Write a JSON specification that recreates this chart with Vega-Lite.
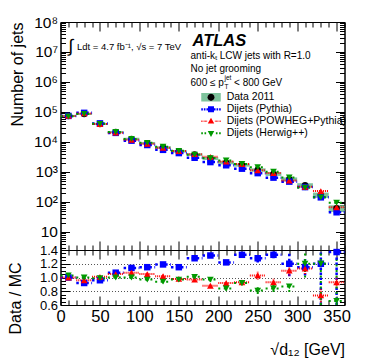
{
  "$schema": "https://vega.github.io/schema/vega-lite/v6.json",
  "autosize": {"type": "none"},
  "width": 284,
  "height": 283,
  "padding": {"left": 60.5, "top": 22, "right": 29.5, "bottom": 54},
  "background": "white",
  "datasets": {
    "band": [
      {"x1": 0, "x2": 20, "lo": 68080, "hi": 79920},
      {"x1": 20, "x2": 40, "lo": 79120, "hi": 92880},
      {"x1": 40, "x2": 60, "lo": 36800, "hi": 43200},
      {"x1": 60, "x2": 80, "lo": 19780, "hi": 23220},
      {"x1": 80, "x2": 100, "lo": 11466, "hi": 13734},
      {"x1": 100, "x2": 120, "lo": 8281, "hi": 9919},
      {"x1": 120, "x2": 140, "lo": 5850, "hi": 7150},
      {"x1": 140, "x2": 160, "lo": 4410, "hi": 5390},
      {"x1": 160, "x2": 180, "lo": 3420, "hi": 4180},
      {"x1": 180, "x2": 200, "lo": 2510, "hi": 3130},
      {"x1": 200, "x2": 220, "lo": 1795, "hi": 2285},
      {"x1": 220, "x2": 240, "lo": 1505, "hi": 1915},
      {"x1": 240, "x2": 260, "lo": 1018, "hi": 1322},
      {"x1": 260, "x2": 280, "lo": 740, "hi": 980},
      {"x1": 280, "x2": 300, "lo": 485, "hi": 657},
      {"x1": 300, "x2": 320, "lo": 299, "hi": 421},
      {"x1": 320, "x2": 340, "lo": 137, "hi": 205},
      {"x1": 340, "x2": 360, "lo": 46.5, "hi": 77.5}
    ],
    "pts": [
      {"s": "Data 2011", "x": 10, "x1": 0, "x2": 20, "n": 74000},
      {"s": "Data 2011", "x": 30, "x1": 20, "x2": 40, "n": 86000},
      {"s": "Data 2011", "x": 50, "x1": 40, "x2": 60, "n": 40000},
      {"s": "Data 2011", "x": 70, "x1": 60, "x2": 80, "n": 21500},
      {"s": "Data 2011", "x": 90, "x1": 80, "x2": 100, "n": 12600},
      {"s": "Data 2011", "x": 110, "x1": 100, "x2": 120, "n": 9100},
      {"s": "Data 2011", "x": 130, "x1": 120, "x2": 140, "n": 6500},
      {"s": "Data 2011", "x": 150, "x1": 140, "x2": 160, "n": 4900},
      {"s": "Data 2011", "x": 170, "x1": 160, "x2": 180, "n": 3800},
      {"s": "Data 2011", "x": 190, "x1": 180, "x2": 200, "n": 2820},
      {"s": "Data 2011", "x": 210, "x1": 200, "x2": 220, "n": 2040},
      {"s": "Data 2011", "x": 230, "x1": 220, "x2": 240, "n": 1710},
      {"s": "Data 2011", "x": 250, "x1": 240, "x2": 260, "n": 1170},
      {"s": "Data 2011", "x": 270, "x1": 260, "x2": 280, "n": 860},
      {"s": "Data 2011", "x": 290, "x1": 280, "x2": 300, "n": 571},
      {"s": "Data 2011", "x": 310, "x1": 300, "x2": 320, "n": 360},
      {"s": "Data 2011", "x": 330, "x1": 320, "x2": 340, "n": 171},
      {"s": "Data 2011", "x": 350, "x1": 340, "x2": 360, "n": 62},

      {"s": "Dijets (Pythia)", "x": 10, "x1": 0, "x2": 20, "n": 74000, "r": 1.00, "lo": 0.98, "hi": 1.02},
      {"s": "Dijets (Pythia)", "x": 30, "x1": 20, "x2": 40, "n": 93480, "r": 0.92, "lo": 0.90, "hi": 0.94},
      {"s": "Dijets (Pythia)", "x": 50, "x1": 40, "x2": 60, "n": 41670, "r": 0.96, "lo": 0.94, "hi": 0.98},
      {"s": "Dijets (Pythia)", "x": 70, "x1": 60, "x2": 80, "n": 20090, "r": 1.07, "lo": 1.05, "hi": 1.09},
      {"s": "Dijets (Pythia)", "x": 90, "x1": 80, "x2": 100, "n": 11050, "r": 1.14, "lo": 1.12, "hi": 1.16},
      {"s": "Dijets (Pythia)", "x": 110, "x1": 100, "x2": 120, "n": 7913, "r": 1.15, "lo": 1.13, "hi": 1.17},
      {"s": "Dijets (Pythia)", "x": 130, "x1": 120, "x2": 140, "n": 5462, "r": 1.19, "lo": 1.165, "hi": 1.215},
      {"s": "Dijets (Pythia)", "x": 150, "x1": 140, "x2": 160, "n": 4261, "r": 1.15, "lo": 1.125, "hi": 1.175},
      {"s": "Dijets (Pythia)", "x": 170, "x1": 160, "x2": 180, "n": 2969, "r": 1.28, "lo": 1.25, "hi": 1.31},
      {"s": "Dijets (Pythia)", "x": 190, "x1": 180, "x2": 200, "n": 2136, "r": 1.32, "lo": 1.285, "hi": 1.355},
      {"s": "Dijets (Pythia)", "x": 210, "x1": 200, "x2": 220, "n": 1672, "r": 1.22, "lo": 1.185, "hi": 1.255},
      {"s": "Dijets (Pythia)", "x": 230, "x1": 220, "x2": 240, "n": 1286, "r": 1.33, "lo": 1.29, "hi": 1.37},
      {"s": "Dijets (Pythia)", "x": 250, "x1": 240, "x2": 260, "n": 914, "r": 1.28, "lo": 1.22, "hi": 1.34},
      {"s": "Dijets (Pythia)", "x": 270, "x1": 260, "x2": 280, "n": 647, "r": 1.33, "lo": 1.28, "hi": 1.38},
      {"s": "Dijets (Pythia)", "x": 290, "x1": 280, "x2": 300, "n": 476, "r": 1.20, "lo": 1.02, "hi": 1.38},
      {"s": "Dijets (Pythia)", "x": 310, "x1": 300, "x2": 320, "n": 313, "r": 1.15, "lo": 1.03, "hi": 1.27},
      {"s": "Dijets (Pythia)", "x": 330, "x1": 320, "x2": 340, "n": 142.5, "r": 1.20, "lo": 0.6, "hi": 1.8},
      {"s": "Dijets (Pythia)", "x": 350, "x1": 340, "x2": 360, "n": 45.3, "r": 1.37, "lo": 0.57, "hi": 2.17},

      {"s": "Dijets (POWHEG+Pythia)", "x": 10, "x1": 0, "x2": 20, "n": 74000, "r": 1.00, "lo": 0.98, "hi": 1.02},
      {"s": "Dijets (POWHEG+Pythia)", "x": 30, "x1": 20, "x2": 40, "n": 89580, "r": 0.96, "lo": 0.94, "hi": 0.98},
      {"s": "Dijets (POWHEG+Pythia)", "x": 50, "x1": 40, "x2": 60, "n": 39600, "r": 1.01, "lo": 0.99, "hi": 1.03},
      {"s": "Dijets (POWHEG+Pythia)", "x": 70, "x1": 60, "x2": 80, "n": 20480, "r": 1.05, "lo": 1.03, "hi": 1.07},
      {"s": "Dijets (POWHEG+Pythia)", "x": 90, "x1": 80, "x2": 100, "n": 11780, "r": 1.07, "lo": 1.05, "hi": 1.09},
      {"s": "Dijets (POWHEG+Pythia)", "x": 110, "x1": 100, "x2": 120, "n": 8667, "r": 1.05, "lo": 1.03, "hi": 1.07},
      {"s": "Dijets (POWHEG+Pythia)", "x": 130, "x1": 120, "x2": 140, "n": 6373, "r": 1.02, "lo": 0.995, "hi": 1.045},
      {"s": "Dijets (POWHEG+Pythia)", "x": 150, "x1": 140, "x2": 160, "n": 5000, "r": 0.98, "lo": 0.955, "hi": 1.005},
      {"s": "Dijets (POWHEG+Pythia)", "x": 170, "x1": 160, "x2": 180, "n": 3918, "r": 0.97, "lo": 0.94, "hi": 1.0},
      {"s": "Dijets (POWHEG+Pythia)", "x": 190, "x1": 180, "x2": 200, "n": 3205, "r": 0.88, "lo": 0.85, "hi": 0.91},
      {"s": "Dijets (POWHEG+Pythia)", "x": 210, "x1": 200, "x2": 220, "n": 2217, "r": 0.92, "lo": 0.89, "hi": 0.95},
      {"s": "Dijets (POWHEG+Pythia)", "x": 230, "x1": 220, "x2": 240, "n": 1839, "r": 0.93, "lo": 0.895, "hi": 0.965},
      {"s": "Dijets (POWHEG+Pythia)", "x": 250, "x1": 240, "x2": 260, "n": 1136, "r": 1.03, "lo": 0.97, "hi": 1.09},
      {"s": "Dijets (POWHEG+Pythia)", "x": 270, "x1": 260, "x2": 280, "n": 925, "r": 0.93, "lo": 0.87, "hi": 0.99},
      {"s": "Dijets (POWHEG+Pythia)", "x": 290, "x1": 280, "x2": 300, "n": 519, "r": 1.10, "lo": 1.03, "hi": 1.17},
      {"s": "Dijets (POWHEG+Pythia)", "x": 310, "x1": 300, "x2": 320, "n": 319, "r": 1.13, "lo": 1.05, "hi": 1.21},
      {"s": "Dijets (POWHEG+Pythia)", "x": 330, "x1": 320, "x2": 340, "n": 231, "r": 0.74, "lo": 0.64, "hi": 0.84},
      {"s": "Dijets (POWHEG+Pythia)", "x": 350, "x1": 340, "x2": 360, "n": 66.7, "r": 0.93, "lo": 0.85, "hi": 1.01},

      {"s": "Dijets (Herwig++)", "x": 10, "x1": 0, "x2": 20, "n": 71840, "r": 1.03, "lo": 1.01, "hi": 1.05},
      {"s": "Dijets (Herwig++)", "x": 30, "x1": 20, "x2": 40, "n": 86000, "r": 1.00, "lo": 0.98, "hi": 1.02},
      {"s": "Dijets (Herwig++)", "x": 50, "x1": 40, "x2": 60, "n": 40400, "r": 0.99, "lo": 0.97, "hi": 1.01},
      {"s": "Dijets (Herwig++)", "x": 70, "x1": 60, "x2": 80, "n": 21500, "r": 1.00, "lo": 0.98, "hi": 1.02},
      {"s": "Dijets (Herwig++)", "x": 90, "x1": 80, "x2": 100, "n": 12600, "r": 1.00, "lo": 0.98, "hi": 1.02},
      {"s": "Dijets (Herwig++)", "x": 110, "x1": 100, "x2": 120, "n": 9381, "r": 0.97, "lo": 0.95, "hi": 0.99},
      {"s": "Dijets (Herwig++)", "x": 130, "x1": 120, "x2": 140, "n": 6915, "r": 0.94, "lo": 0.915, "hi": 0.965},
      {"s": "Dijets (Herwig++)", "x": 150, "x1": 140, "x2": 160, "n": 5052, "r": 0.97, "lo": 0.945, "hi": 0.995},
      {"s": "Dijets (Herwig++)", "x": 170, "x1": 160, "x2": 180, "n": 3762, "r": 1.01, "lo": 0.98, "hi": 1.04},
      {"s": "Dijets (Herwig++)", "x": 190, "x1": 180, "x2": 200, "n": 2907, "r": 0.97, "lo": 0.94, "hi": 1.0},
      {"s": "Dijets (Herwig++)", "x": 210, "x1": 200, "x2": 220, "n": 2429, "r": 0.84, "lo": 0.81, "hi": 0.87},
      {"s": "Dijets (Herwig++)", "x": 230, "x1": 220, "x2": 240, "n": 1859, "r": 0.92, "lo": 0.885, "hi": 0.955},
      {"s": "Dijets (Herwig++)", "x": 250, "x1": 240, "x2": 260, "n": 1444, "r": 0.81, "lo": 0.76, "hi": 0.86},
      {"s": "Dijets (Herwig++)", "x": 270, "x1": 260, "x2": 280, "n": 1024, "r": 0.84, "lo": 0.79, "hi": 0.89},
      {"s": "Dijets (Herwig++)", "x": 290, "x1": 280, "x2": 300, "n": 656, "r": 0.87, "lo": 0.79, "hi": 0.95},
      {"s": "Dijets (Herwig++)", "x": 310, "x1": 300, "x2": 320, "n": 300, "r": 1.20, "lo": 1.0, "hi": 1.4},
      {"s": "Dijets (Herwig++)", "x": 330, "x1": 320, "x2": 340, "n": 142.5, "r": 1.20, "lo": 0.6, "hi": 1.8},
      {"s": "Dijets (Herwig++)", "x": 350, "x1": 340, "x2": 360, "n": 93.9, "r": 0.66, "lo": 0.06, "hi": 1.26}
    ]
  },
  "resolve": {"scale": {"y": "independent"}, "axis": {"x": "independent", "y": "independent"}},
  "layer": [
    {
      "resolve": {"axis": {"x": "independent", "y": "independent"}},
      "layer": [
        {
          "data": {"name": "band"},
          "mark": {"type": "rect", "strokeWidth": 0},
          "encoding": {
            "x": {"field": "x1", "type": "quantitative", "scale": {"domain": [0, 360], "nice": false, "zero": false},
              "axis": {"orient": "top", "values": [0,10,20,30,40,50,60,70,80,90,100,110,120,130,140,150,160,170,180,190,200,210,220,230,240,250,260,270,280,290,300,310,320,330,340,350,360],
                "tickSize": {"condition": {"test": "datum.value % 50 == 0", "value": -9}, "value": -5}, "labels": false, "title": null}},
            "x2": {"field": "x2"},
            "y": {"field": "lo", "type": "quantitative", "scale": {"type": "log", "domain": [2.5, 100000000], "range": [228, 0], "nice": false},
              "axis": {"orient": "left",
                "values": [3,4,5,6,7,8,9,10,20,30,40,50,60,70,80,90,100,200,300,400,500,600,700,800,900,1000,2000,3000,4000,5000,6000,7000,8000,9000,10000,20000,30000,40000,50000,60000,70000,80000,90000,100000,200000,300000,400000,500000,600000,700000,800000,900000,1000000,2000000,3000000,4000000,5000000,6000000,7000000,8000000,9000000,10000000,20000000,30000000,40000000,50000000,60000000,70000000,80000000,90000000,100000000],
                "tickSize": {"condition": {"test": "abs(log(datum.value)/LN10 - round(log(datum.value)/LN10)) < 0.001", "value": -9}, "value": -5},
                "labelExpr": "abs(log(datum.value)/LN10 - round(log(datum.value)/LN10)) < 0.001 ? (round(log(datum.value)/LN10) == 1 ? '10' : '10' + ['⁰','¹','²','³','⁴','⁵','⁶','⁷','⁸','⁹'][round(log(datum.value)/LN10)]) : ''",
                "labelPadding": 12, "labelFontSize": 15.5,
                "title": "Number of jets", "titleAnchor": "end", "titleX": -38.5, "titleBaseline": "alphabetic", "titleAngle": 270}},
            "y2": {"field": "hi"},
            "fill": {"datum": "Data 2011", "type": "nominal", "scale": {"range": ["#7ec39c"]},
              "legend": {"orient": "none", "legendX": 144, "legendY": 68.8, "title": null, "padding": 0, "rowPadding": 0,
                "labelExpr": "''", "labelOffset": 9.2, "symbolSize": 169, "symbolStrokeWidth": 0,
                "symbolType": "M-1.5,-0.65H1.5V0.65H-1.5zM-0.55,0A0.55,0.55,0,1,0,0.55,0A0.55,0.55,0,1,0,-0.55,0z"}}
          }
        },
        {
          "data": {"name": "pts"},
          "transform": [{"filter": "datum.s === 'Dijets (Pythia)'"}],
          "mark": {"type": "rule", "color": "#0000ff", "strokeWidth": 2.5, "strokeDash": [2.5, 2.5]},
          "encoding": {
            "x": {"field": "x1", "type": "quantitative", "scale": {"domain": [0, 360], "nice": false, "zero": false}, "axis": null},
            "x2": {"field": "x2"},
            "y": {"field": "n", "type": "quantitative", "scale": {"type": "log", "domain": [2.5, 100000000], "range": [228, 0], "nice": false}, "axis": null}
          }
        },
        {
          "data": {"name": "pts"},
          "transform": [{"filter": "datum.s === 'Dijets (POWHEG+Pythia)'"}],
          "mark": {"type": "rule", "color": "#ff0000", "strokeWidth": 2, "strokeDash": [1, 1]},
          "encoding": {
            "x": {"field": "x1", "type": "quantitative", "scale": {"domain": [0, 360], "nice": false, "zero": false}, "axis": null},
            "x2": {"field": "x2"},
            "y": {"field": "n", "type": "quantitative", "scale": {"type": "log", "domain": [2.5, 100000000], "range": [228, 0], "nice": false}, "axis": null}
          }
        },
        {
          "data": {"name": "pts"},
          "transform": [{"filter": "datum.s === 'Dijets (Herwig++)'"}],
          "mark": {"type": "rule", "color": "#009900", "strokeWidth": 2, "strokeDash": [2, 3.5]},
          "encoding": {
            "x": {"field": "x1", "type": "quantitative", "scale": {"domain": [0, 360], "nice": false, "zero": false}, "axis": null},
            "x2": {"field": "x2"},
            "y": {"field": "n", "type": "quantitative", "scale": {"type": "log", "domain": [2.5, 100000000], "range": [228, 0], "nice": false}, "axis": null}
          }
        },
        {
          "data": {"name": "pts"},
          "transform": [{"filter": "datum.s === 'Data 2011'"}],
          "mark": {"type": "point", "shape": "circle", "filled": true, "opacity": 1, "size": 42, "color": "#000000", "strokeWidth": 0},
          "encoding": {
            "x": {"field": "x", "type": "quantitative", "scale": {"domain": [0, 360], "nice": false, "zero": false},
              "axis": {"orient": "bottom", "offset": -55, "values": [0,10,20,30,40,50,60,70,80,90,100,110,120,130,140,150,160,170,180,190,200,210,220,230,240,250,260,270,280,290,300,310,320,330,340,350,360],
                "tickSize": {"condition": {"test": "datum.value % 50 == 0", "value": -9}, "value": -5}, "labels": false, "title": null}},
            "y": {"field": "n", "type": "quantitative", "scale": {"type": "log", "domain": [2.5, 100000000], "range": [228, 0], "nice": false},
              "axis": {"orient": "right",
                "values": [3,4,5,6,7,8,9,10,20,30,40,50,60,70,80,90,100,200,300,400,500,600,700,800,900,1000,2000,3000,4000,5000,6000,7000,8000,9000,10000,20000,30000,40000,50000,60000,70000,80000,90000,100000,200000,300000,400000,500000,600000,700000,800000,900000,1000000,2000000,3000000,4000000,5000000,6000000,7000000,8000000,9000000,10000000,20000000,30000000,40000000,50000000,60000000,70000000,80000000,90000000,100000000],
                "tickSize": {"condition": {"test": "abs(log(datum.value)/LN10 - round(log(datum.value)/LN10)) < 0.001", "value": -9}, "value": -5},
                "labels": false, "title": null}}
          }
        },
        {
          "data": {"name": "pts"},
          "transform": [{"filter": "datum.s === 'Dijets (Pythia)'"}],
          "mark": {"type": "point", "shape": "square", "filled": true, "opacity": 1, "size": 42, "color": "#0000ff", "strokeWidth": 0},
          "encoding": {
            "x": {"field": "x", "type": "quantitative", "scale": {"domain": [0, 360], "nice": false, "zero": false}, "axis": null},
            "y": {"field": "n", "type": "quantitative", "scale": {"type": "log", "domain": [2.5, 100000000], "range": [228, 0], "nice": false}, "axis": null}
          }
        },
        {
          "data": {"name": "pts"},
          "transform": [{"filter": "datum.s === 'Dijets (POWHEG+Pythia)'"}],
          "mark": {"type": "point", "shape": "triangle-up", "filled": true, "opacity": 1, "size": 45, "color": "#ff0000", "strokeWidth": 0},
          "encoding": {
            "x": {"field": "x", "type": "quantitative", "scale": {"domain": [0, 360], "nice": false, "zero": false}, "axis": null},
            "y": {"field": "n", "type": "quantitative", "scale": {"type": "log", "domain": [2.5, 100000000], "range": [228, 0], "nice": false}, "axis": null}
          }
        },
        {
          "data": {"name": "pts"},
          "transform": [{"filter": "datum.s === 'Dijets (Herwig++)'"}],
          "mark": {"type": "point", "shape": "triangle-down", "filled": true, "opacity": 1, "size": 45, "color": "#009900", "strokeWidth": 0},
          "encoding": {
            "x": {"field": "x", "type": "quantitative", "scale": {"domain": [0, 360], "nice": false, "zero": false}, "axis": null},
            "y": {"field": "n", "type": "quantitative", "scale": {"type": "log", "domain": [2.5, 100000000], "range": [228, 0], "nice": false}, "axis": null}
          }
        },
        {
          "data": {"name": "pts"},
          "mark": {"type": "point", "filled": true, "opacity": 0, "size": 10},
          "encoding": {
            "x": {"field": "x", "type": "quantitative", "scale": {"domain": [0, 360], "nice": false, "zero": false}, "axis": null},
            "y": {"field": "n", "type": "quantitative", "scale": {"type": "log", "domain": [2.5, 100000000], "range": [228, 0], "nice": false}, "axis": null},
            "color": {"field": "s", "type": "nominal",
              "scale": {"domain": ["Data 2011", "Dijets (Pythia)", "Dijets (POWHEG+Pythia)", "Dijets (Herwig++)"], "range": ["#000000", "#0000ff", "#ff0000", "#009900"]},
              "legend": {"orient": "none", "legendX": 144, "legendY": 68.8, "title": null, "padding": 0, "rowPadding": 0,
                "labelFontSize": 10.5, "labelOffset": 9.2, "symbolSize": 169, "symbolStrokeWidth": 0, "symbolOpacity": 1}},
            "shape": {"field": "s", "type": "nominal",
              "scale": {"domain": ["Data 2011", "Dijets (Pythia)", "Dijets (POWHEG+Pythia)", "Dijets (Herwig++)"],
                "range": [
                  "M-0.55,0A0.55,0.55,0,1,0,0.55,0A0.55,0.55,0,1,0,-0.55,0z",
                  "M-1.5,-0.18h0.25v0.36h-0.25zM-1.1,-0.18h0.25v0.36h-0.25zM-0.7,-0.18h0.25v0.36h-0.25zM0.45,-0.18h0.25v0.36h-0.25zM0.85,-0.18h0.25v0.36h-0.25zM1.25,-0.18h0.25v0.36h-0.25zM-0.46,-0.46h0.92v0.92h-0.92z",
                  "M-1.5,-0.12h0.1v0.24h-0.1zM-1.3,-0.12h0.1v0.24h-0.1zM-1.1,-0.12h0.1v0.24h-0.1zM-0.9,-0.12h0.1v0.24h-0.1zM-0.7,-0.12h0.1v0.24h-0.1zM0.6,-0.12h0.1v0.24h-0.1zM0.8,-0.12h0.1v0.24h-0.1zM1,-0.12h0.1v0.24h-0.1zM1.2,-0.12h0.1v0.24h-0.1zM1.4,-0.12h0.1v0.24h-0.1zM0,-0.55L0.5,0.35L-0.5,0.35z",
                  "M-1.5,-0.15h0.25v0.3h-0.25zM-1,-0.15h0.25v0.3h-0.25zM0.75,-0.15h0.25v0.3h-0.25zM1.25,-0.15h0.25v0.3h-0.25zM-0.5,-0.35L0.5,-0.35L0,0.55z"
                ]},
              "legend": {"orient": "none", "legendX": 144, "legendY": 68.8, "title": null, "padding": 0, "rowPadding": 0,
                "labelFontSize": 10.5, "labelOffset": 9.2, "symbolSize": 169, "symbolStrokeWidth": 0, "symbolOpacity": 1}}
          }
        },
        {
          "data": {"values": [{}]},
          "mark": {"type": "text", "align": "center", "baseline": "middle", "fontSize": 18, "color": "black"},
          "encoding": {
            "x": {"datum": 13.3, "type": "quantitative", "scale": {"domain": [0, 360], "nice": false, "zero": false}, "axis": null},
            "y": {"datum": 14680000, "type": "quantitative", "scale": {"type": "log", "domain": [2.5, 100000000], "range": [228, 0], "nice": false}, "axis": null},
            "text": {"value": "∫"}
          }
        },
        {
          "data": {"values": [{}]},
          "mark": {"type": "text", "align": "left", "baseline": "middle", "fontSize": 9.5, "color": "black"},
          "encoding": {
            "x": {"datum": 20.9, "type": "quantitative", "scale": {"domain": [0, 360], "nice": false, "zero": false}, "axis": null},
            "y": {"datum": 14680000, "type": "quantitative", "scale": {"type": "log", "domain": [2.5, 100000000], "range": [228, 0], "nice": false}, "axis": null},
            "text": {"value": "Ldt = 4.7 fb⁻¹, √s = 7 TeV"}
          }
        },
        {
          "data": {"values": [{}]},
          "mark": {"type": "text", "align": "left", "baseline": "middle", "fontSize": 16.5, "fontWeight": "bold", "fontStyle": "italic", "color": "black"},
          "encoding": {
            "x": {"datum": 167.3, "type": "quantitative", "scale": {"domain": [0, 360], "nice": false, "zero": false}, "axis": null},
            "y": {"datum": 23260000, "type": "quantitative", "scale": {"type": "log", "domain": [2.5, 100000000], "range": [228, 0], "nice": false}, "axis": null},
            "text": {"value": "ATLAS"}
          }
        },
        {
          "data": {"values": [{}]},
          "mark": {"type": "text", "align": "left", "baseline": "middle", "fontSize": 10, "color": "black"},
          "encoding": {
            "x": {"datum": 164.8, "type": "quantitative", "scale": {"domain": [0, 360], "nice": false, "zero": false}, "axis": null},
            "y": {"datum": 7360000, "type": "quantitative", "scale": {"type": "log", "domain": [2.5, 100000000], "range": [228, 0], "nice": false}, "axis": null},
            "text": {"value": "anti-kₜ LCW jets with R=1.0"}
          }
        },
        {
          "data": {"values": [{}]},
          "mark": {"type": "text", "align": "left", "baseline": "middle", "fontSize": 10, "color": "black"},
          "encoding": {
            "x": {"datum": 164.8, "type": "quantitative", "scale": {"domain": [0, 360], "nice": false, "zero": false}, "axis": null},
            "y": {"datum": 2610000, "type": "quantitative", "scale": {"type": "log", "domain": [2.5, 100000000], "range": [228, 0], "nice": false}, "axis": null},
            "text": {"value": "No jet grooming"}
          }
        },
        {
          "data": {"values": [{}]},
          "mark": {"type": "text", "align": "left", "baseline": "middle", "fontSize": 10, "color": "black"},
          "encoding": {
            "x": {"datum": 164.8, "type": "quantitative", "scale": {"domain": [0, 360], "nice": false, "zero": false}, "axis": null},
            "y": {"datum": 926000, "type": "quantitative", "scale": {"type": "log", "domain": [2.5, 100000000], "range": [228, 0], "nice": false}, "axis": null},
            "text": {"value": "600 ≤ p"}
          }
        },
        {
          "data": {"values": [{}]},
          "mark": {"type": "text", "align": "left", "baseline": "middle", "fontSize": 6.5, "color": "black"},
          "encoding": {
            "x": {"datum": 207.9, "type": "quantitative", "scale": {"domain": [0, 360], "nice": false, "zero": false}, "axis": null},
            "y": {"datum": 1360000, "type": "quantitative", "scale": {"type": "log", "domain": [2.5, 100000000], "range": [228, 0], "nice": false}, "axis": null},
            "text": {"value": "jet"}
          }
        },
        {
          "data": {"values": [{}]},
          "mark": {"type": "text", "align": "left", "baseline": "middle", "fontSize": 6.5, "color": "black"},
          "encoding": {
            "x": {"datum": 207.9, "type": "quantitative", "scale": {"domain": [0, 360], "nice": false, "zero": false}, "axis": null},
            "y": {"datum": 656000, "type": "quantitative", "scale": {"type": "log", "domain": [2.5, 100000000], "range": [228, 0], "nice": false}, "axis": null},
            "text": {"value": "T"}
          }
        },
        {
          "data": {"values": [{}]},
          "mark": {"type": "text", "align": "left", "baseline": "middle", "fontSize": 10, "color": "black"},
          "encoding": {
            "x": {"datum": 220, "type": "quantitative", "scale": {"domain": [0, 360], "nice": false, "zero": false}, "axis": null},
            "y": {"datum": 926000, "type": "quantitative", "scale": {"type": "log", "domain": [2.5, 100000000], "range": [228, 0], "nice": false}, "axis": null},
            "text": {"value": "< 800 GeV"}
          }
        }
      ]
    },
    {
      "resolve": {"axis": {"x": "independent", "y": "independent"}},
      "data": {"name": "pts"},
      "transform": [{"filter": "datum.s !== 'Data 2011'"}],
      "layer": [
        {
          "transform": [{"filter": "datum.s === 'Dijets (Pythia)'"}],
          "mark": {"type": "rule", "color": "#0000ff", "strokeWidth": 2.5, "strokeDash": [2.5, 2.5]},
          "encoding": {
            "x": {"field": "x1", "type": "quantitative", "scale": {"domain": [0, 360], "nice": false, "zero": false},
              "axis": {"orient": "bottom", "values": [0,10,20,30,40,50,60,70,80,90,100,110,120,130,140,150,160,170,180,190,200,210,220,230,240,250,260,270,280,290,300,310,320,330,340,350,360],
                "tickSize": {"condition": {"test": "datum.value % 50 == 0", "value": -9}, "value": -5},
                "labelExpr": "datum.value % 50 == 0 ? datum.label : ''", "labelPadding": 12, "labelFontSize": 16.5,
                "title": "√d₁₂ [GeV]", "titleAnchor": "end", "titleAlign": "right", "titleX": 284, "titleY": 49, "titleBaseline": "alphabetic"}},
            "x2": {"field": "x2"},
            "y": {"field": "r", "type": "quantitative", "scale": {"domain": [0.6, 1.4], "range": [283, 228], "nice": false, "zero": false, "clamp": true},
              "axis": {"orient": "left", "values": [0.6,0.65,0.7,0.75,0.8,0.85,0.9,0.95,1.0,1.05,1.1,1.15,1.2,1.25,1.3,1.35,1.4],
                "tickSize": {"condition": {"test": "abs(datum.value*5 - round(datum.value*5)) < 0.001", "value": -9}, "value": -5},
                "labelExpr": "abs(datum.value*5 - round(datum.value*5)) < 0.001 ? format(datum.value, '.1f') : ''", "labelPadding": 12, "labelFontSize": 13,
                "grid": true, "gridDash": [1, 2], "gridColor": "#555555", "gridWidth": 1,
                "gridOpacity": {"condition": {"test": "datum.value > 0.7 && datum.value < 1.3 && abs(datum.value*5 - round(datum.value*5)) < 0.001", "value": 1}, "value": 0},
                "title": "Data / MC", "titleAnchor": "middle", "titleAlign": "center", "titleX": -40.5, "titleY": 276, "titleBaseline": "alphabetic", "titleAngle": 270}}
          }
        },
        {
          "transform": [{"filter": "datum.s === 'Dijets (Pythia)'"}],
          "mark": {"type": "rule", "color": "#0000ff", "strokeWidth": 2.5, "strokeDash": [2.5, 2.5]},
          "encoding": {
            "x": {"field": "x", "type": "quantitative", "scale": {"domain": [0, 360], "nice": false, "zero": false},
              "axis": {"orient": "top", "offset": -228, "values": [0,10,20,30,40,50,60,70,80,90,100,110,120,130,140,150,160,170,180,190,200,210,220,230,240,250,260,270,280,290,300,310,320,330,340,350,360],
                "tickSize": {"condition": {"test": "datum.value % 50 == 0", "value": -9}, "value": -5}, "labels": false, "title": null}},
            "y": {"field": "lo", "type": "quantitative", "scale": {"domain": [0.6, 1.4], "range": [283, 228], "nice": false, "zero": false, "clamp": true},
              "axis": {"orient": "right", "values": [0.6,0.65,0.7,0.75,0.8,0.85,0.9,0.95,1.0,1.05,1.1,1.15,1.2,1.25,1.3,1.35,1.4],
                "tickSize": {"condition": {"test": "abs(datum.value*5 - round(datum.value*5)) < 0.001", "value": -9}, "value": -5},
                "labels": false, "title": null}},
            "y2": {"field": "hi"}
          }
        },
        {
          "transform": [{"filter": "datum.s === 'Dijets (POWHEG+Pythia)'"}],
          "mark": {"type": "rule", "color": "#ff0000", "strokeWidth": 2, "strokeDash": [1, 1]},
          "encoding": {
            "x": {"field": "x1", "type": "quantitative", "scale": {"domain": [0, 360], "nice": false, "zero": false}, "axis": null},
            "x2": {"field": "x2"},
            "y": {"field": "r", "type": "quantitative", "scale": {"domain": [0.6, 1.4], "range": [283, 228], "nice": false, "zero": false, "clamp": true}, "axis": null}
          }
        },
        {
          "transform": [{"filter": "datum.s === 'Dijets (POWHEG+Pythia)'"}],
          "mark": {"type": "rule", "color": "#ff0000", "strokeWidth": 2, "strokeDash": [1, 1]},
          "encoding": {
            "x": {"field": "x", "type": "quantitative", "scale": {"domain": [0, 360], "nice": false, "zero": false}, "axis": null},
            "y": {"field": "lo", "type": "quantitative", "scale": {"domain": [0.6, 1.4], "range": [283, 228], "nice": false, "zero": false, "clamp": true}, "axis": null},
            "y2": {"field": "hi"}
          }
        },
        {
          "transform": [{"filter": "datum.s === 'Dijets (Herwig++)'"}],
          "mark": {"type": "rule", "color": "#009900", "strokeWidth": 2, "strokeDash": [2, 3.5]},
          "encoding": {
            "x": {"field": "x1", "type": "quantitative", "scale": {"domain": [0, 360], "nice": false, "zero": false}, "axis": null},
            "x2": {"field": "x2"},
            "y": {"field": "r", "type": "quantitative", "scale": {"domain": [0.6, 1.4], "range": [283, 228], "nice": false, "zero": false, "clamp": true}, "axis": null}
          }
        },
        {
          "transform": [{"filter": "datum.s === 'Dijets (Herwig++)'"}],
          "mark": {"type": "rule", "color": "#009900", "strokeWidth": 2, "strokeDash": [2, 3.5]},
          "encoding": {
            "x": {"field": "x", "type": "quantitative", "scale": {"domain": [0, 360], "nice": false, "zero": false}, "axis": null},
            "y": {"field": "lo", "type": "quantitative", "scale": {"domain": [0.6, 1.4], "range": [283, 228], "nice": false, "zero": false, "clamp": true}, "axis": null},
            "y2": {"field": "hi"}
          }
        },
        {
          "transform": [{"filter": "datum.s === 'Dijets (Pythia)'"}],
          "mark": {"type": "point", "shape": "square", "filled": true, "opacity": 1, "size": 42, "color": "#0000ff", "strokeWidth": 0},
          "encoding": {
            "x": {"field": "x", "type": "quantitative", "scale": {"domain": [0, 360], "nice": false, "zero": false}, "axis": null},
            "y": {"field": "r", "type": "quantitative", "scale": {"domain": [0.6, 1.4], "range": [283, 228], "nice": false, "zero": false, "clamp": true}, "axis": null}
          }
        },
        {
          "transform": [{"filter": "datum.s === 'Dijets (POWHEG+Pythia)'"}],
          "mark": {"type": "point", "shape": "triangle-up", "filled": true, "opacity": 1, "size": 45, "color": "#ff0000", "strokeWidth": 0},
          "encoding": {
            "x": {"field": "x", "type": "quantitative", "scale": {"domain": [0, 360], "nice": false, "zero": false}, "axis": null},
            "y": {"field": "r", "type": "quantitative", "scale": {"domain": [0.6, 1.4], "range": [283, 228], "nice": false, "zero": false, "clamp": true}, "axis": null}
          }
        },
        {
          "transform": [{"filter": "datum.s === 'Dijets (Herwig++)'"}],
          "mark": {"type": "point", "shape": "triangle-down", "filled": true, "opacity": 1, "size": 45, "color": "#009900", "strokeWidth": 0},
          "encoding": {
            "x": {"field": "x", "type": "quantitative", "scale": {"domain": [0, 360], "nice": false, "zero": false}, "axis": null},
            "y": {"field": "r", "type": "quantitative", "scale": {"domain": [0.6, 1.4], "range": [283, 228], "nice": false, "zero": false, "clamp": true}, "axis": null}
          }
        }
      ]
    }
  ],
  "config": {
    "view": {"stroke": "black", "strokeWidth": 1},
    "font": "Liberation Sans",
    "axis": {
      "labelFont": "Liberation Sans", "titleFont": "Liberation Sans", "labelFontSize": 16, "titleFontSize": 16,
      "labelColor": "black", "titleColor": "black", "tickColor": "black", "domainColor": "black",
      "titleFontWeight": "normal", "grid": false, "labelOverlap": false, "labelFlush": false, "zindex": 1,
      "tickWidth": 1, "domainWidth": 1
    },
    "legend": {"labelFont": "Liberation Sans", "labelColor": "black", "labelFontSize": 10.5},
    "text": {"font": "Liberation Sans"}
  }
}
